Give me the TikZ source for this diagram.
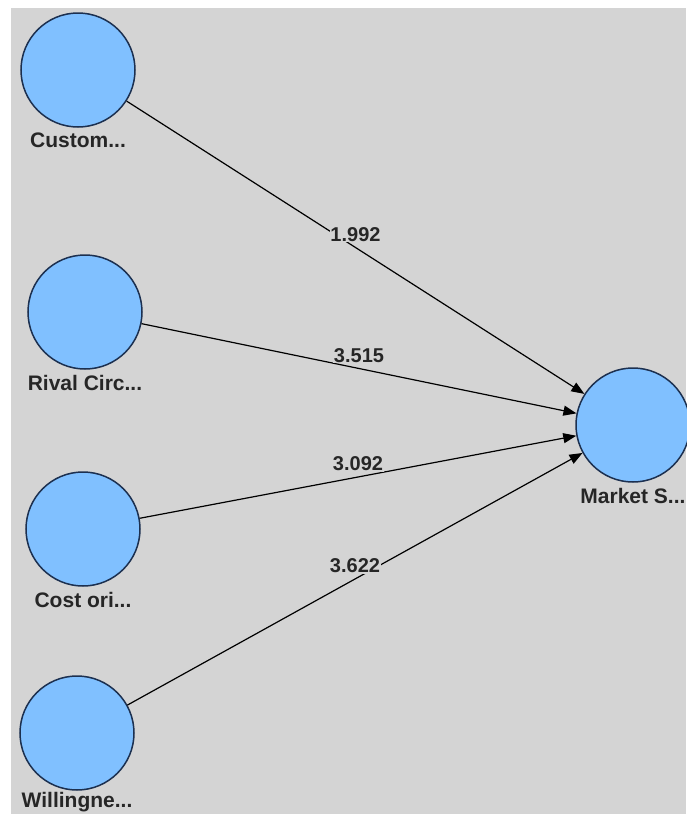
\documentclass[tikz,border=0pt]{standalone}
\usepackage{fontspec}
\setmainfont{Liberation Sans}
\usetikzlibrary{arrows.meta}
\definecolor{panel}{RGB}{212,212,212}
\definecolor{latent}{RGB}{128,192,255}
\definecolor{rim}{RGB}{28,48,80}

\begin{document}
\begin{tikzpicture}[x=1pt, y=-1pt,
    lv/.style={draw=rim, line width=1.5pt, circle, fill=latent, minimum size=114pt, inner sep=0pt},
    lvtxt/.style={font=\fontsize{21}{24}\selectfont\bfseries, inner sep=0pt, text=black!85, yshift=-5pt},
    arr/.style={-{Triangle[length=13pt, width=10pt]}, line width=1.2pt},
    coef/.style={font=\fontsize{20}{24}\selectfont\bfseries, fill=panel, inner sep=0.5pt, text=black!85, midway, yshift=13pt}
]
\useasboundingbox (0,0) rectangle (686,814);
\fill[white] (0,0) rectangle (686,814);
\fill[panel] (11,8) rectangle (686,814);

\node[lv, label={[lvtxt]below:Custom...}] (cust) at (78,70) {};
\node[lv, label={[lvtxt]below:Rival Circ...}] (rival) at (85,312) {};
\node[lv, label={[lvtxt]below:Cost ori...}] (cost) at (83,529) {};
\node[lv, label={[lvtxt, yshift=4pt]below:Willingne...}] (will) at (77,733) {};
\node[lv, label={[lvtxt]below:Market S...}] (mkt) at (633,425) {};

\draw[arr] (cust) -- node[coef] {1.992} (mkt);
\draw[arr] (rival) -- node[coef] {3.515} (mkt);
\draw[arr] (cost) -- node[coef] {3.092} (mkt);
\draw[arr] (will) -- node[coef] {3.622} (mkt);
\end{tikzpicture}
\end{document}
